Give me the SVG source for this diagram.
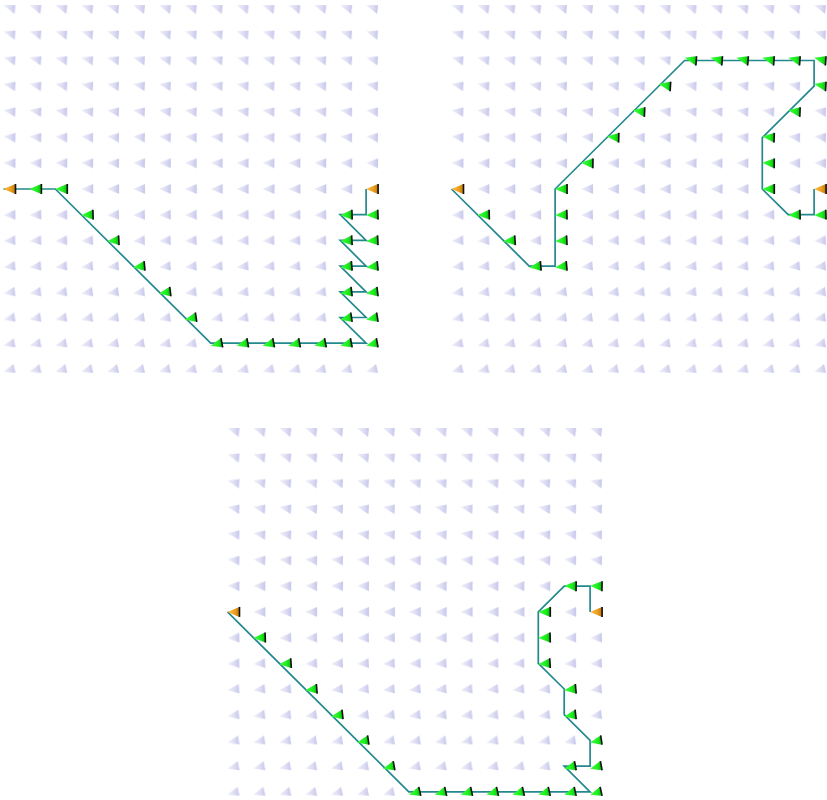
<svg xmlns="http://www.w3.org/2000/svg" xmlns:xlink="http://www.w3.org/1999/xlink" width="827" height="800" viewBox="0 0 827 800">
<style>
.edge{stroke:#111;stroke-width:1.6}
.gr{fill:url(#gg)}
.or{fill:url(#og)}
.path{fill:none;stroke:#24898f;stroke-width:1.7;stroke-linejoin:miter}
</style>
<defs>
<linearGradient id="lav" x1="0" y1="0" x2="1" y2="0"><stop offset="0" stop-color="#eeeef8"/><stop offset="0.55" stop-color="#dedef3"/><stop offset="1" stop-color="#c6c6ec"/></linearGradient>
<linearGradient id="gg" x1="0" y1="0" x2="1" y2="0"><stop offset="0" stop-color="#40ff40"/><stop offset="0.65" stop-color="#1aee1a"/><stop offset="1" stop-color="#0cb40c"/></linearGradient>
<linearGradient id="og" x1="0" y1="0" x2="1" y2="0"><stop offset="0" stop-color="#ffc040"/><stop offset="0.6" stop-color="#f0a020"/><stop offset="1" stop-color="#c07800"/></linearGradient>
<polygon id="p0" points="0,-4 12,-4 11,5"/>
<polygon id="p1" points="0,-3.43 12,-4.14 11.14,5"/>
<polygon id="p2" points="0,-2.86 12,-4.29 11.29,5"/>
<polygon id="p3" points="0,-2.29 12,-4.43 11.43,5"/>
<polygon id="p4" points="0,-1.71 12,-4.57 11.57,5"/>
<polygon id="p5" points="0,-1.14 12,-4.71 11.71,5"/>
<polygon id="p6" points="0,-0.57 12,-4.86 11.86,5"/>
<polygon id="p7" points="0,0 12,-5 12,5"/>
<polygon id="p8" points="0,0.43 11.71,-5 12,4.86"/>
<polygon id="p9" points="0,0.86 11.43,-5 12,4.71"/>
<polygon id="p10" points="0,1.29 11.14,-5 12,4.57"/>
<polygon id="p11" points="0,1.71 10.86,-5 12,4.43"/>
<polygon id="p12" points="0,2.14 10.57,-5 12,4.29"/>
<polygon id="p13" points="0,2.57 10.29,-5 12,4.14"/>
<polygon id="p14" points="0,3 10,-5 12,4"/>
<g id="k2"><use href="#p2"/><line class="edge" x1="12" y1="-4.29" x2="11.29" y2="5"/></g>
<g id="k3"><use href="#p3"/><line class="edge" x1="12" y1="-4.43" x2="11.43" y2="5"/></g>
<g id="k4"><use href="#p4"/><line class="edge" x1="12" y1="-4.57" x2="11.57" y2="5"/></g>
<g id="k5"><use href="#p5"/><line class="edge" x1="12" y1="-4.71" x2="11.71" y2="5"/></g>
<g id="k6"><use href="#p6"/><line class="edge" x1="12" y1="-4.86" x2="11.86" y2="5"/></g>
<g id="k7"><use href="#p7"/><line class="edge" x1="12" y1="-5" x2="12" y2="5"/></g>
<g id="k8"><use href="#p8"/><line class="edge" x1="11.71" y1="-5" x2="12" y2="4.86"/></g>
<g id="k9"><use href="#p9"/><line class="edge" x1="11.43" y1="-5" x2="12" y2="4.71"/></g>
<g id="k10"><use href="#p10"/><line class="edge" x1="11.14" y1="-5" x2="12" y2="4.57"/></g>
<g id="k11"><use href="#p11"/><line class="edge" x1="10.86" y1="-5" x2="12" y2="4.43"/></g>
<g id="k12"><use href="#p12"/><line class="edge" x1="10.57" y1="-5" x2="12" y2="4.29"/></g>
<g id="k13"><use href="#p13"/><line class="edge" x1="10.29" y1="-5" x2="12" y2="4.14"/></g>
<g id="k14"><use href="#p14"/><line class="edge" x1="10" y1="-5" x2="12" y2="4"/></g>
<pattern id="r0" width="25.9" height="25.7" patternUnits="userSpaceOnUse"><use href="#p0" x="6" y="12.85" fill="url(#lav)"/></pattern>
<pattern id="r1" width="25.9" height="25.7" patternUnits="userSpaceOnUse"><use href="#p1" x="6" y="12.85" fill="url(#lav)"/></pattern>
<pattern id="r2" width="25.9" height="25.7" patternUnits="userSpaceOnUse"><use href="#p2" x="6" y="12.85" fill="url(#lav)"/></pattern>
<pattern id="r3" width="25.9" height="25.7" patternUnits="userSpaceOnUse"><use href="#p3" x="6" y="12.85" fill="url(#lav)"/></pattern>
<pattern id="r4" width="25.9" height="25.7" patternUnits="userSpaceOnUse"><use href="#p4" x="6" y="12.85" fill="url(#lav)"/></pattern>
<pattern id="r5" width="25.9" height="25.7" patternUnits="userSpaceOnUse"><use href="#p5" x="6" y="12.85" fill="url(#lav)"/></pattern>
<pattern id="r6" width="25.9" height="25.7" patternUnits="userSpaceOnUse"><use href="#p6" x="6" y="12.85" fill="url(#lav)"/></pattern>
<pattern id="r7" width="25.9" height="25.7" patternUnits="userSpaceOnUse"><use href="#p7" x="6" y="12.85" fill="url(#lav)"/></pattern>
<pattern id="r8" width="25.9" height="25.7" patternUnits="userSpaceOnUse"><use href="#p8" x="6" y="12.85" fill="url(#lav)"/></pattern>
<pattern id="r9" width="25.9" height="25.7" patternUnits="userSpaceOnUse"><use href="#p9" x="6" y="12.85" fill="url(#lav)"/></pattern>
<pattern id="r10" width="25.9" height="25.7" patternUnits="userSpaceOnUse"><use href="#p10" x="6" y="12.85" fill="url(#lav)"/></pattern>
<pattern id="r11" width="25.9" height="25.7" patternUnits="userSpaceOnUse"><use href="#p11" x="6" y="12.85" fill="url(#lav)"/></pattern>
<pattern id="r12" width="25.9" height="25.7" patternUnits="userSpaceOnUse"><use href="#p12" x="6" y="12.85" fill="url(#lav)"/></pattern>
<pattern id="r13" width="25.9" height="25.7" patternUnits="userSpaceOnUse"><use href="#p13" x="6" y="12.85" fill="url(#lav)"/></pattern>
<pattern id="r14" width="25.9" height="25.7" patternUnits="userSpaceOnUse"><use href="#p14" x="6" y="12.85" fill="url(#lav)"/></pattern>
<g id="grid">
<rect y="0" width="388.5" height="25.7" fill="url(#r0)"/>
<rect y="25.7" width="388.5" height="25.7" fill="url(#r1)"/>
<rect y="51.4" width="388.5" height="25.7" fill="url(#r2)"/>
<rect y="77.1" width="388.5" height="25.7" fill="url(#r3)"/>
<rect y="102.8" width="388.5" height="25.7" fill="url(#r4)"/>
<rect y="128.5" width="388.5" height="25.7" fill="url(#r5)"/>
<rect y="154.2" width="388.5" height="25.7" fill="url(#r6)"/>
<rect y="179.9" width="388.5" height="25.7" fill="url(#r7)"/>
<rect y="205.6" width="388.5" height="25.7" fill="url(#r8)"/>
<rect y="231.3" width="388.5" height="25.7" fill="url(#r9)"/>
<rect y="257" width="388.5" height="25.7" fill="url(#r10)"/>
<rect y="282.7" width="388.5" height="25.7" fill="url(#r11)"/>
<rect y="308.4" width="388.5" height="25.7" fill="url(#r12)"/>
<rect y="334.1" width="388.5" height="25.7" fill="url(#r13)"/>
<rect y="359.8" width="388.5" height="25.7" fill="url(#r14)"/>
</g>
</defs>
<rect width="827" height="800" fill="#ffffff"/>

<g id="field1"><use href="#grid" transform="translate(-2.5,-3.75)"/></g>
<g id="field2"><use href="#grid" transform="translate(445.5,-3.75)"/></g>
<g id="field3"><use href="#grid" transform="translate(221.5,419.15)"/></g>

<g id="connectors">
<polyline class="path" points="3.5,189 55.3,189 210.7,343.2 366.1,343.2 340.2,317.5 366.1,317.5 340.2,291.8 366.1,291.8 340.2,266.1 366.1,266.1 340.2,240.4 366.1,240.4 340.2,214.7 366.1,214.7 366.1,189"/>
<polyline class="path" points="451.5,189 529.2,266.1 555.1,266.1 555.1,189 684.6,60.5 814.1,60.5 814.1,86.2 762.3,137.6 762.3,189 788.2,214.7 814.1,214.7 814.1,189"/>
<polyline class="path" points="227.5,611.9 408.8,791.8 590.1,791.8 564.2,766.1 590.1,766.1 590.1,740.4 564.2,714.7 564.2,689 538.3,663.3 538.3,611.9 564.2,586.2 590.1,586.2 590.1,611.9"/>
</g>

<g id="path1">
<use href="#k7" x="3.5" y="189" class="or"/>
<use href="#k7" x="366.1" y="189" class="or"/>
<use href="#k7" x="29.4" y="189" class="gr"/>
<use href="#k7" x="55.3" y="189" class="gr"/>
<use href="#k8" x="81.2" y="214.7" class="gr"/>
<use href="#k9" x="107.1" y="240.4" class="gr"/>
<use href="#k10" x="133" y="266.1" class="gr"/>
<use href="#k11" x="158.9" y="291.8" class="gr"/>
<use href="#k12" x="184.8" y="317.5" class="gr"/>
<use href="#k13" x="210.7" y="343.2" class="gr"/>
<use href="#k13" x="236.6" y="343.2" class="gr"/>
<use href="#k13" x="262.5" y="343.2" class="gr"/>
<use href="#k13" x="288.4" y="343.2" class="gr"/>
<use href="#k13" x="314.3" y="343.2" class="gr"/>
<use href="#k13" x="340.2" y="343.2" class="gr"/>
<use href="#k13" x="366.1" y="343.2" class="gr"/>
<use href="#k12" x="340.2" y="317.5" class="gr"/>
<use href="#k12" x="366.1" y="317.5" class="gr"/>
<use href="#k11" x="340.2" y="291.8" class="gr"/>
<use href="#k11" x="366.1" y="291.8" class="gr"/>
<use href="#k10" x="340.2" y="266.1" class="gr"/>
<use href="#k10" x="366.1" y="266.1" class="gr"/>
<use href="#k9" x="340.2" y="240.4" class="gr"/>
<use href="#k9" x="366.1" y="240.4" class="gr"/>
<use href="#k8" x="340.2" y="214.7" class="gr"/>
<use href="#k8" x="366.1" y="214.7" class="gr"/>
</g>

<g id="path2">
<use href="#k7" x="451.5" y="189" class="or"/>
<use href="#k7" x="814.1" y="189" class="or"/>
<use href="#k8" x="477.4" y="214.7" class="gr"/>
<use href="#k9" x="503.3" y="240.4" class="gr"/>
<use href="#k10" x="529.2" y="266.1" class="gr"/>
<use href="#k10" x="555.1" y="266.1" class="gr"/>
<use href="#k9" x="555.1" y="240.4" class="gr"/>
<use href="#k8" x="555.1" y="214.7" class="gr"/>
<use href="#k7" x="555.1" y="189" class="gr"/>
<use href="#k6" x="581" y="163.3" class="gr"/>
<use href="#k5" x="606.9" y="137.6" class="gr"/>
<use href="#k4" x="632.8" y="111.9" class="gr"/>
<use href="#k3" x="658.7" y="86.2" class="gr"/>
<use href="#k2" x="684.6" y="60.5" class="gr"/>
<use href="#k2" x="710.5" y="60.5" class="gr"/>
<use href="#k2" x="736.4" y="60.5" class="gr"/>
<use href="#k2" x="762.3" y="60.5" class="gr"/>
<use href="#k2" x="788.2" y="60.5" class="gr"/>
<use href="#k2" x="814.1" y="60.5" class="gr"/>
<use href="#k3" x="814.1" y="86.2" class="gr"/>
<use href="#k4" x="788.2" y="111.9" class="gr"/>
<use href="#k5" x="762.3" y="137.6" class="gr"/>
<use href="#k6" x="762.3" y="163.3" class="gr"/>
<use href="#k7" x="762.3" y="189" class="gr"/>
<use href="#k8" x="788.2" y="214.7" class="gr"/>
<use href="#k8" x="814.1" y="214.7" class="gr"/>
</g>

<g id="path3">
<use href="#k7" x="227.5" y="611.9" class="or"/>
<use href="#k7" x="590.1" y="611.9" class="or"/>
<use href="#k8" x="253.4" y="637.6" class="gr"/>
<use href="#k9" x="279.3" y="663.3" class="gr"/>
<use href="#k10" x="305.2" y="689" class="gr"/>
<use href="#k11" x="331.1" y="714.7" class="gr"/>
<use href="#k12" x="357" y="740.4" class="gr"/>
<use href="#k13" x="382.9" y="766.1" class="gr"/>
<use href="#k14" x="408.8" y="791.8" class="gr"/>
<use href="#k14" x="434.7" y="791.8" class="gr"/>
<use href="#k14" x="460.6" y="791.8" class="gr"/>
<use href="#k14" x="486.5" y="791.8" class="gr"/>
<use href="#k14" x="512.4" y="791.8" class="gr"/>
<use href="#k14" x="538.3" y="791.8" class="gr"/>
<use href="#k14" x="564.2" y="791.8" class="gr"/>
<use href="#k14" x="590.1" y="791.8" class="gr"/>
<use href="#k13" x="564.2" y="766.1" class="gr"/>
<use href="#k13" x="590.1" y="766.1" class="gr"/>
<use href="#k12" x="590.1" y="740.4" class="gr"/>
<use href="#k11" x="564.2" y="714.7" class="gr"/>
<use href="#k10" x="564.2" y="689" class="gr"/>
<use href="#k9" x="538.3" y="663.3" class="gr"/>
<use href="#k8" x="538.3" y="637.6" class="gr"/>
<use href="#k7" x="538.3" y="611.9" class="gr"/>
<use href="#k6" x="564.2" y="586.2" class="gr"/>
<use href="#k6" x="590.1" y="586.2" class="gr"/>
</g>
</svg>
